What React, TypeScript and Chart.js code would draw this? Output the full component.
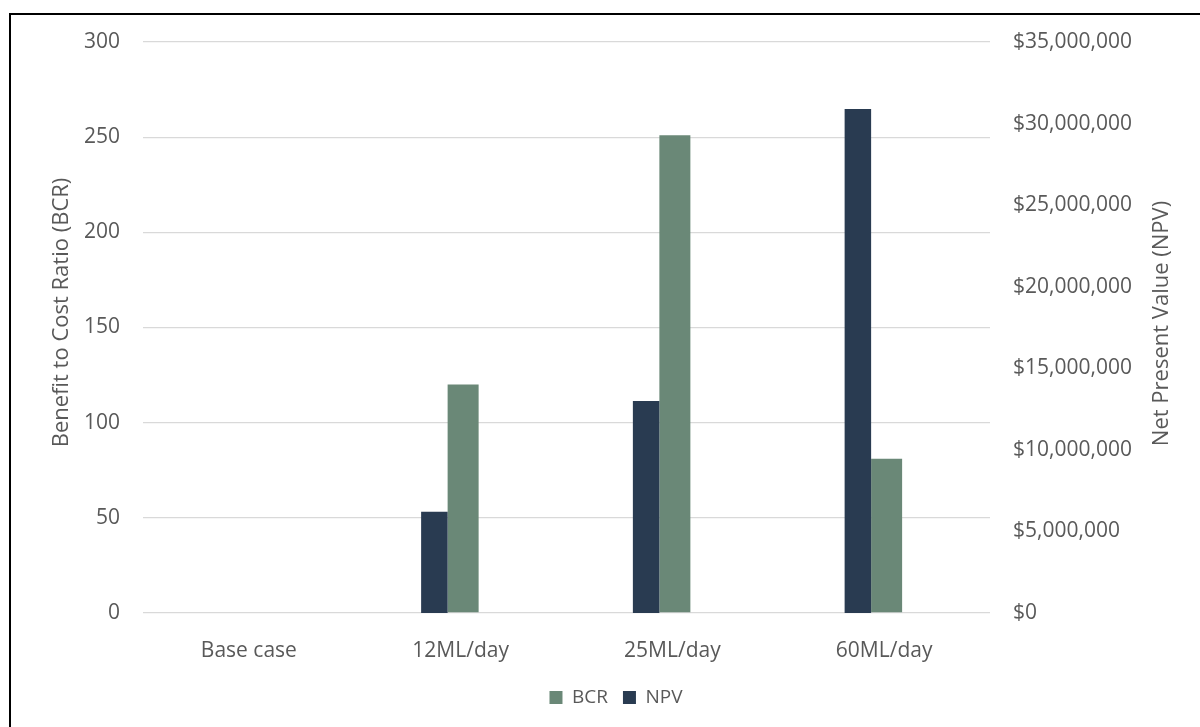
import React, { useEffect, useRef } from "react";
import { Chart, registerables } from "chart.js";

Chart.register(...registerables);

// Scenario labels along the bottom axis
const categories = ["Base case", "12ML/day", "25ML/day", "60ML/day"];

// Benefit to cost ratio per scenario (left axis)
const bcrValues = [0, 120, 251, 81];

// Net present value per scenario in dollars (right axis)
const npvValues = [0, 6200000, 13000000, 30900000];

// Axis ranges and steps
const bcrTicks = { min: 0, max: 300, step: 50 };
const npvTicks = { min: 0, max: 35000000, step: 5000000 };

const leftTitle = "Benefit to Cost Ratio (BCR)";
const rightTitle = "Net Present Value (NPV)";

const TEXT = "#595959";
const GRID = "#d9d9d9";
const NPV_COLOR = "#293b51";
const BCR_COLOR = "#6a8877";
const FONT = '"Open Sans", sans-serif';

// Each pair of bars sits a little left of its label centre (in category units)
const GROUP_SHIFT = 0.0614;

// Rotated titles for both value axes, reading bottom to top
const axisTitles = {
  id: "axisTitles",
  afterDraw(chart: any) {
    const { ctx, chartArea } = chart;
    const midY = (chartArea.top + chartArea.bottom) / 2;
    const draw = (text: string, x: number, y: number) => {
      ctx.save();
      ctx.translate(x, y);
      ctx.rotate(-Math.PI / 2);
      ctx.font = `22px ${FONT}`;
      ctx.fillStyle = TEXT;
      ctx.textAlign = "center";
      ctx.textBaseline = "middle";
      ctx.fillText(text, 0, 0);
      ctx.restore();
    };
    draw(leftTitle, chartArea.left - 81, midY - 15);
    draw(rightTitle, chartArea.right + 172, midY - 4);
  },
};

export default function App() {
  const canvasRef = useRef<HTMLCanvasElement | null>(null);

  useEffect(() => {
    if (!canvasRef.current) return;
    Chart.defaults.font.family = FONT;
    const chart = new Chart(canvasRef.current, {
      type: "bar",
      data: {
        labels: categories,
        datasets: [
          {
            label: "NPV",
            data: npvValues.map((v, i) => ({ x: i, y: v })),
            backgroundColor: NPV_COLOR,
            borderWidth: 0,
            inflateAmount: 0,
            barThickness: 26.5,
            xAxisID: "xb",
            yAxisID: "y2",
          },
          {
            label: "BCR",
            data: bcrValues.map((v, i) => ({ x: i, y: v })),
            backgroundColor: BCR_COLOR,
            borderWidth: 0,
            inflateAmount: 0,
            barThickness: 31,
            xAxisID: "xb",
            yAxisID: "y",
          },
        ],
      },
      options: {
        responsive: false,
        devicePixelRatio: 1,
        animation: false,
        layout: { padding: { left: 32, right: 0, top: 42, bottom: 10 } },
        plugins: {
          tooltip: { enabled: false },
          legend: {
            position: "bottom",
            labels: {
              color: TEXT,
              font: { size: 19, family: FONT },
              boxWidth: 13,
              boxHeight: 13,
              padding: 15,
              sort: (a: any, b: any) => b.datasetIndex - a.datasetIndex,
            },
          },
        },
        scales: {
          x: {
            type: "category",
            offset: true,
            grid: { display: false },
            border: { display: false },
            ticks: { color: TEXT, font: { size: 21 }, padding: 17 },
            afterFit: (s: any) => {
              s.height = 60;
            },
          },
          xb: {
            type: "linear",
            display: false,
            offset: false,
            bounds: "data",
            min: -0.5 + GROUP_SHIFT,
            max: categories.length - 0.5 + GROUP_SHIFT,
          },
          y: {
            position: "left",
            min: bcrTicks.min,
            max: bcrTicks.max,
            grid: { color: GRID, lineWidth: 1.3, drawTicks: false },
            border: { display: false },
            ticks: {
              stepSize: bcrTicks.step,
              color: TEXT,
              font: { size: 21 },
              padding: 23,
            },
            afterFit: (s: any) => {
              s.width = 111;
            },
          },
          y2: {
            position: "right",
            min: npvTicks.min,
            max: npvTicks.max,
            grid: { display: false, drawTicks: false },
            border: { display: false },
            ticks: {
              stepSize: npvTicks.step,
              color: TEXT,
              font: { size: 21 },
              padding: 23,
              callback: (v: any) => "$" + Number(v).toLocaleString("en-US"),
            },
            afterFit: (s: any) => {
              s.width = 210;
            },
          },
        },
      } as any,
      plugins: [axisTitles],
    });
    return () => chart.destroy();
  }, []);

  return (
    <div
      style={{
        position: "fixed",
        left: 0,
        top: 0,
        width: 1200,
        height: 727,
        overflow: "hidden",
        background: "#ffffff",
      }}
    >
      <canvas
        ref={canvasRef}
        width={1200}
        height={727}
        style={{ position: "absolute", left: 0, top: 0 }}
      />
      <div
        style={{
          position: "absolute",
          left: 9,
          top: 13,
          width: 1400,
          height: 900,
          borderLeft: "2px solid #000",
          borderTop: "2px solid #000",
          pointerEvents: "none",
        }}
      />
    </div>
  );
}
